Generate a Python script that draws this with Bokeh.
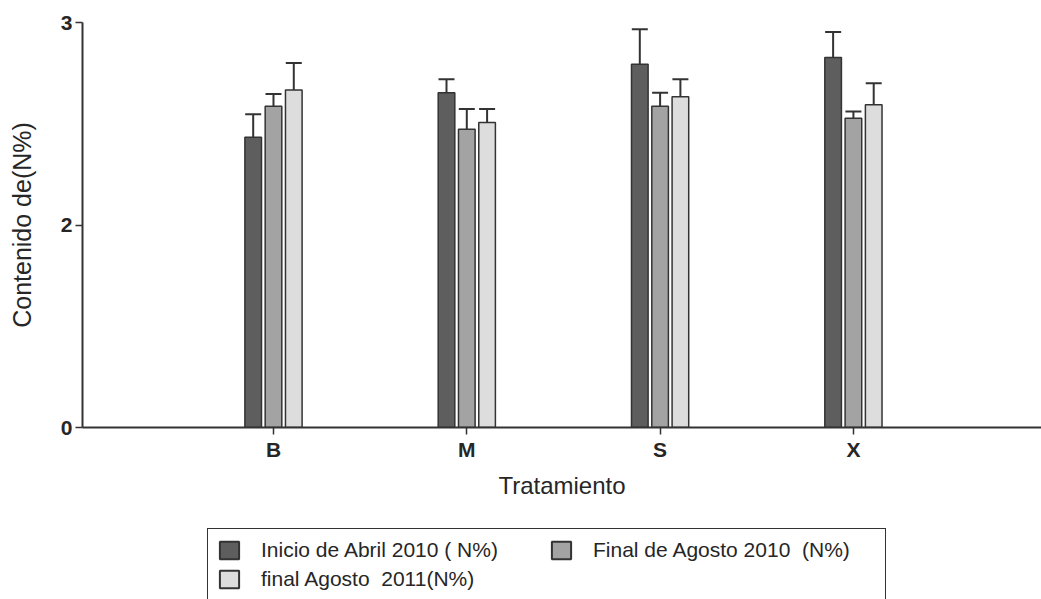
import numpy as np
from bokeh.plotting import figure
from bokeh.layouts import column
from bokeh.models import (ColumnDataSource, Range1d, FixedTicker, Whisker, TeeHead,
                          Legend, LegendItem)
from bokeh.embed import file_html
from bokeh.resources import INLINE

# ---- data ----
categories = ["B", "M", "S", "X"]
series_names = ["Inicio de Abril 2010 ( N%)", "Final de Agosto 2010  (N%)", "final Agosto  2011(N%)"]
inicio_abril_2010 = [2.15, 2.48, 2.69, 2.74]
inicio_abril_2010_err = [0.17, 0.10, 0.26, 0.19]
final_agosto_2010 = [2.38, 2.21, 2.38, 2.29]
final_agosto_2010_err = [0.09, 0.15, 0.10, 0.05]
final_agosto_2011 = [2.50, 2.26, 2.45, 2.39]
final_agosto_2011_err = [0.20, 0.10, 0.13, 0.16]
y_ticks = [0, 1.5, 3]
y_tick_labels = ["0", "2", "3"]

values = [inicio_abril_2010, final_agosto_2010, final_agosto_2011]
errors = [inicio_abril_2010_err, final_agosto_2010_err, final_agosto_2011_err]
fills = ["#5e5e5e", "#a3a3a3", "#dddddd"]
offsets = [-0.105, 0.0, 0.105]
BAR_W = 0.086
EDGE = "#333333"
TXT = "#262626"
FONT = "Liberation Sans"

TOP_H = 510
p = figure(width=1041, height=TOP_H, output_backend="svg", toolbar_location=None,
           x_range=Range1d(0.012, 4.973), y_range=Range1d(0, 3),
           min_border_left=82, min_border_right=0, min_border_top=22,
           min_border_bottom=TOP_H - 427)
p.outline_line_color = None
p.xgrid.visible = False
p.ygrid.visible = False
p.background_fill_color = "white"

# legend strip (separate figure below; its ranges keep its own copies of the bars out of view)
LEG_H = 599 - TOP_H
q = figure(width=1041, height=LEG_H, output_backend="svg", toolbar_location=None,
           x_range=Range1d(0.012, 4.973), y_range=Range1d(100, 101),
           x_axis_location=None, y_axis_location=None, min_border=0)
q.outline_line_color = None
q.xgrid.visible = False
q.ygrid.visible = False

base = np.arange(1, len(categories) + 1)
items = []
for name, vals, errs, fill, off in zip(series_names, values, errors, fills, offsets):
    src = ColumnDataSource(dict(x=base + off, top=vals,
                                upper=np.array(vals) + np.array(errs)))
    p.vbar(x="x", top="top", bottom=0, width=BAR_W, source=src,
           fill_color=fill, line_color=EDGE, line_width=1.5)
    w = Whisker(source=src, base="x", lower="top", upper="upper",
                lower_head=None,
                upper_head=TeeHead(size=16, line_color=EDGE, line_width=2),
                line_color=EDGE, line_width=2, level="glyph")
    p.add_layout(w)
    r = q.vbar(x="x", top="top", bottom=0, width=BAR_W, source=src,
               fill_color=fill, line_color=EDGE, line_width=2)
    items.append(LegendItem(label=name, renderers=[r]))

# axes
p.xaxis.ticker = FixedTicker(ticks=list(base))
p.xaxis.major_label_overrides = {int(b): c for b, c in zip(base, categories)}
p.yaxis.ticker = FixedTicker(ticks=y_ticks)
p.yaxis.major_label_overrides = {t: l for t, l in zip(y_ticks, y_tick_labels)}
for ax in (p.xaxis[0], p.yaxis[0]):
    ax.axis_line_color = EDGE
    ax.axis_line_width = 2
    ax.major_tick_line_color = EDGE
    ax.major_tick_line_width = 1.5
    ax.major_tick_in = 0
    ax.major_tick_out = 7
    ax.minor_tick_line_color = None
    ax.major_label_text_font = FONT
    ax.major_label_text_font_size = "21px"
    ax.major_label_text_font_style = "bold"
    ax.major_label_text_color = TXT
    ax.axis_label_text_font = FONT
    ax.axis_label_text_font_style = "normal"
    ax.axis_label_text_color = TXT
p.xaxis.major_label_standoff = 3
p.yaxis.major_label_standoff = 3
p.xaxis.axis_label = "Tratamiento"
p.xaxis.axis_label_text_font_size = "24px"
p.xaxis.axis_label_standoff = 8
p.yaxis.axis_label = "Contenido de(N%)"
p.yaxis.axis_label_text_font_size = "25px"
p.yaxis.axis_label_standoff = 22

leg_top = 530 - TOP_H
legend = Legend(items=items, location=(207 - 82, LEG_H - leg_top - 71),
                orientation="horizontal", ncols=2,
                glyph_width=24, glyph_height=22, label_standoff=20, label_width=283,
                label_height=22, spacing=5, padding=9, margin=0,
                border_line_color=EDGE, border_line_width=1.5, border_line_alpha=1,
                background_fill_color="white", background_fill_alpha=1,
                label_text_font=FONT, label_text_font_size="21px", label_text_color=TXT)
q.add_layout(legend)

layout = column(p, q, spacing=0)
open("out.html", "w").write(file_html(layout, INLINE))
